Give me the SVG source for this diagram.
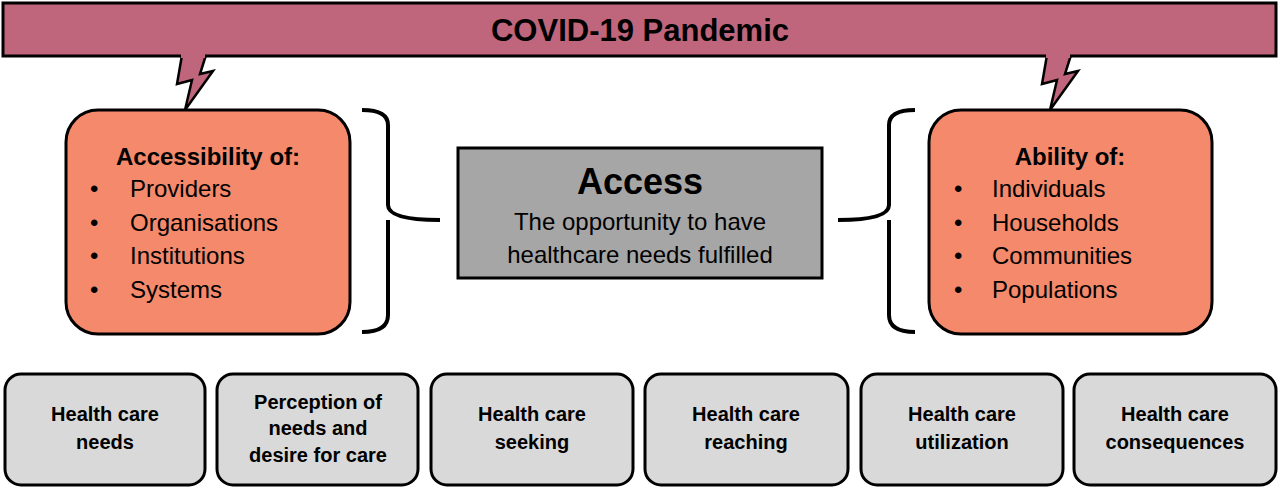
<svg xmlns="http://www.w3.org/2000/svg" width="1280" height="488" viewBox="0 0 1280 488">
<style>
text{font-family:"Liberation Sans",Arial,sans-serif;fill:#000}
.b{font-weight:bold}
.or{fill:#f4896b;stroke:#000;stroke-width:3}
.gr{fill:#d9d9d9;stroke:#000;stroke-width:3}
.br{fill:none;stroke:#000;stroke-width:4}
.li{font-size:24px}
.bt{font-size:20px;font-weight:bold;text-anchor:middle}
</style>
<rect width="1280" height="488" fill="#fff"/>
<g id="banner">
<path d="M182,55 L177,84 L192,80 L185,110 L213,71 L200,74 L206,55 Z" fill="#bf657c" stroke="#000" stroke-width="2.5"/>
<path d="M1047,55 L1042,84 L1057,80 L1050,110 L1078,71 L1065,74 L1071,55 Z" fill="#bf657c" stroke="#000" stroke-width="2.5"/>
<rect x="3" y="3" width="1273" height="53" fill="#bf657c" stroke="#000" stroke-width="3"/>
<rect x="181" y="52" width="24" height="6" fill="#bf657c"/>
<rect x="1046" y="52" width="24" height="6" fill="#bf657c"/>
<text x="640" y="41" class="b" font-size="31" text-anchor="middle">COVID-19 Pandemic</text>
</g>
<g id="connectors">
<path class="br" d="M362,110 Q388,110 388,125 L388,205 Q388,220 440,220 M388,220 Q388,235 388,240 L388,315 Q388,332 362,332"/>
<path class="br" d="M915,110 Q889,110 889,125 L889,205 Q889,220 838,220 M889,220 L889,315 Q889,332 915,332"/>
</g>
<g id="accessibility">
<rect class="or" x="66" y="110" width="284" height="224" rx="32"/>
<text x="208" y="165" class="b" font-size="24" text-anchor="middle">Accessibility of:</text>
<text class="li" x="90" y="197">•</text><text class="li" x="130" y="197">Providers</text>
<text class="li" x="90" y="231">•</text><text class="li" x="130" y="231">Organisations</text>
<text class="li" x="90" y="264">•</text><text class="li" x="130" y="264">Institutions</text>
<text class="li" x="90" y="298">•</text><text class="li" x="130" y="298">Systems</text>
</g>
<g id="ability">
<rect class="or" x="929" y="110" width="283" height="224" rx="32"/>
<text x="1070" y="165" class="b" font-size="24" text-anchor="middle">Ability of:</text>
<text class="li" x="954" y="197">•</text><text class="li" x="992" y="197">Individuals</text>
<text class="li" x="954" y="231">•</text><text class="li" x="992" y="231">Households</text>
<text class="li" x="954" y="264">•</text><text class="li" x="992" y="264">Communities</text>
<text class="li" x="954" y="298">•</text><text class="li" x="992" y="298">Populations</text>
</g>
<g id="access">
<rect x="458" y="148" width="364" height="130" fill="#a6a6a6" stroke="#000" stroke-width="3"/>
<text x="640" y="194" class="b" font-size="36" text-anchor="middle">Access</text>
<text x="640" y="230" font-size="24" text-anchor="middle">The opportunity to have</text>
<text x="640" y="263" font-size="24" text-anchor="middle">healthcare needs fulfilled</text>
</g>
<g id="needs"><rect class="gr" x="5" y="374" width="200" height="111" rx="16"/><text class="bt" x="105" y="421">Health care</text><text class="bt" x="105" y="449">needs</text></g>
<g id="perception"><rect class="gr" x="217" y="374" width="201" height="111" rx="16"/><text class="bt" x="318" y="409">Perception of</text><text class="bt" x="318" y="435">needs and</text><text class="bt" x="318" y="462">desire for care</text></g>
<g id="seeking"><rect class="gr" x="431" y="374" width="202" height="111" rx="16"/><text class="bt" x="532" y="421">Health care</text><text class="bt" x="532" y="449">seeking</text></g>
<g id="reaching"><rect class="gr" x="645" y="374" width="203" height="111" rx="16"/><text class="bt" x="746" y="421">Health care</text><text class="bt" x="746" y="449">reaching</text></g>
<g id="utilization"><rect class="gr" x="861" y="374" width="202" height="111" rx="16"/><text class="bt" x="962" y="421">Health care</text><text class="bt" x="962" y="449">utilization</text></g>
<g id="consequences"><rect class="gr" x="1074" y="374" width="202" height="111" rx="16"/><text class="bt" x="1175" y="421">Health care</text><text class="bt" x="1175" y="449">consequences</text></g>
</svg>
